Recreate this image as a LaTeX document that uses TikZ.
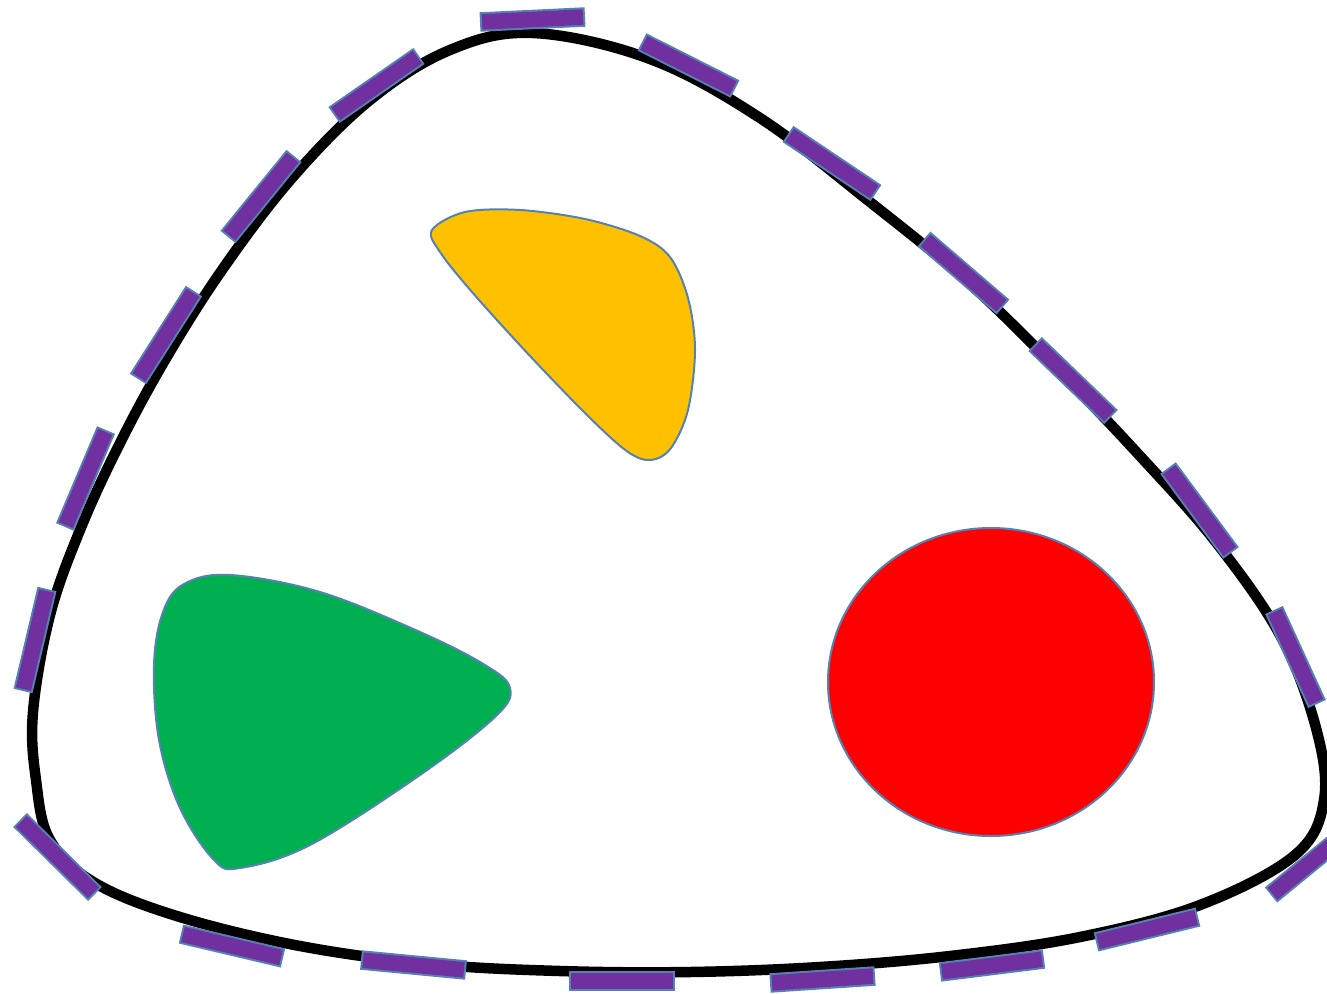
\documentclass[tikz,border=0pt]{standalone}
\usepackage{tikz}
\tikzset{
  rim/.style     = {draw=black, line width=10.5pt},
  blob/.style    = {draw=edgeBlue, line width=2pt},
  dashout/.style = {edgeBlue, line width=19.5pt},
  dashin/.style  = {dashPurple, line width=15.5pt, shorten <=2pt, shorten >=2pt}
}
\definecolor{edgeBlue}{RGB}{84,130,178}
\definecolor{dashPurple}{RGB}{112,48,160}
\definecolor{blobYellow}{RGB}{255,192,0}
\definecolor{blobGreen}{RGB}{0,176,80}
\definecolor{blobRed}{RGB}{255,0,0}

\begin{document}
\begin{tikzpicture}[x=1pt,y=-1pt]
\useasboundingbox (0,0) rectangle (1327,993);
\clip (0,0) rectangle (1327,993);
\draw[rim] plot[smooth cycle, tension=0.6] coordinates {
  (533,33) (650,59) (760,118) (870,202) (970,284) (1060,372) (1140,456)
  (1215,541) (1280,635) (1316,728) (1324,800) (1295,855) (1200,905)
  (1080,937) (950,956) (820,967) (690,972) (560,971) (430,964)
  (300,946) (180,917) (95,883) (50,840) (36,780) (33,712) (50,615)
  (80,530) (118,447) (165,360) (222,270) (292,178) (370,100) (450,50)};
\fill[blobYellow, blob] plot[smooth cycle, tension=0.55] coordinates {
  (432,230) (465,212) (520,210) (585,219) (640,236) (670,257) (688,298)
  (695,350) (688,410) (671,448) (651,460) (628,452) (590,418) (530,356)
  (472,292) (440,252)};
\fill[blobGreen, blob] plot[smooth cycle, tension=0.6] coordinates {
  (154,665) (163,612) (184,584) (230,575) (320,592) (420,632)
  (485,665) (510,688) (496,716) (420,775) (310,845) (240,868) (214,860)
  (180,808) (159,740)};
\fill[blobRed, blob] (991,682) ellipse [x radius=163, y radius=154];
\foreach \xa/\ya/\xb/\yb in {
  480/22/585/17, 642/42/735/89, 788/134/876/193, 924/239/1003/307,
  1035/344/1111/417, 1168/468/1231/553, 1274/610/1317/704,
  1348/832/1271/895, 1198/917/1096/942, 1044/959/940/972,
  875/976/770/983, 675/981/569/981, 466/970/361/960, 283/958/181/934,
  95/894/20/820, 23/691/47/589, 65/527/106/430, 138/379/194/291,
  228/237/294/156, 334/115/419/56} {
  \draw[dashout] (\xa,\ya) -- (\xb,\yb);
  \draw[dashin] (\xa,\ya) -- (\xb,\yb);
}
\end{tikzpicture}
\end{document}
